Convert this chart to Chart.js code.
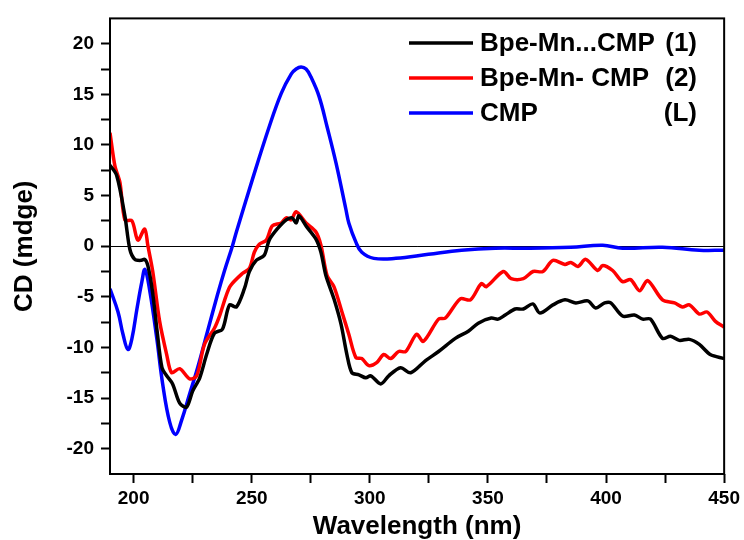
<!DOCTYPE html>
<html>
<head>
<meta charset="utf-8">
<script src="https://cdn.jsdelivr.net/npm/chart.js@4/dist/chart.umd.min.js"></script>
<style>
  html, body { margin: 0; padding: 0; background: #fff; }
  #wrap { width: 744px; height: 540px; }
</style>
</head>
<body>
<div id="wrap"><canvas id="cdChart" width="744" height="540"></canvas></div>
<script>
// wavelength (nm) / CD (mdeg)
const wl1 = [190, 192.8, 196.3, 198.4, 200.5, 203, 204.7, 206, 208, 210, 212, 214, 216.5, 219.5, 222.4, 225, 228, 230.9, 234.2, 237.6, 240.6, 243.5, 246.9, 249, 251.9, 255.3, 257.4, 260.8, 264.6, 267.1, 268.8, 270, 273, 277.2, 279.3, 281.4, 284.8, 287.8, 290.3, 292.4, 295.4, 298.3, 300.4, 304.6, 308, 313, 317.3, 323.6, 329.1, 336.2, 341.7, 345.9, 351.4, 354.3, 357.3, 361.5, 365, 369, 372, 377.5, 382.6, 387.2, 392.3, 395.6, 399.4, 402, 407, 412, 415.5, 418.8, 423.9, 427.3, 431, 435.3, 439.5, 444.1, 450];
const cd1 = [8.0, 7.0, 3.0, -0.3, -1.3, -1.4, -1.3, -1.9, -4.5, -8.5, -12.0, -12.8, -13.6, -15.5, -15.9, -14.3, -13.0, -10.7, -8.6, -8.2, -5.8, -6.0, -4.2, -2.5, -1.4, -0.9, 0.6, 1.7, 2.6, 2.8, 2.3, 3.0, 2.0, 0.7, -0.6, -2.9, -5.2, -7.7, -10.7, -12.5, -12.7, -13.0, -12.8, -13.6, -12.8, -12.0, -12.5, -11.3, -10.4, -9.1, -8.4, -7.6, -7.1, -7.2, -6.8, -6.2, -6.2, -5.7, -6.6, -5.8, -5.3, -5.6, -5.4, -6.1, -5.6, -5.6, -6.9, -6.8, -7.2, -7.2, -9.1, -8.9, -9.3, -9.2, -9.7, -10.7, -11.1];

const wl2 = [190, 192.1, 194.2, 196.3, 199.3, 201.8, 204.7, 206, 208.1, 211, 214, 216.1, 219.5, 223.7, 226.7, 230, 234.2, 236.5, 239, 241, 246, 249, 251.1, 253.2, 256.2, 258.7, 262.5, 264.6, 266.7, 268.8, 273, 277.2, 279.3, 281.9, 284.8, 288.2, 291.1, 294.1, 296.6, 299.6, 302.9, 305.9, 308.8, 312.2, 315.2, 319.8, 322.7, 329.1, 332, 338.3, 342.6, 347.2, 349.3, 356.5, 359.8, 365, 369.1, 373.3, 377.5, 382.6, 385.1, 388.1, 391.4, 396.5, 398.6, 402.8, 407, 410.4, 414.2, 417.6, 423.9, 429, 432.3, 435.3, 439.5, 442.8, 446.2, 450];
const cd2 = [11.2, 7.9, 6.3, 2.6, 2.5, 0.6, 1.7, 0.1, -2.5, -7.4, -10.7, -12.5, -12.1, -13.1, -12.8, -9.7, -8.1, -6.8, -5.0, -3.9, -2.7, -2.2, -0.6, 0.2, 0.6, 2.0, 2.3, 2.8, 2.6, 3.4, 2.3, 1.4, 0.1, -2.9, -4.0, -6.5, -8.7, -11.0, -11.1, -11.8, -11.5, -10.7, -11.1, -10.4, -10.4, -8.7, -9.4, -7.2, -7.1, -5.2, -5.3, -3.7, -4.0, -2.5, -3.2, -3.2, -2.5, -2.5, -1.4, -1.8, -1.6, -2.0, -1.3, -2.4, -1.9, -2.4, -3.5, -3.3, -4.4, -3.4, -5.3, -5.6, -6.0, -5.8, -6.7, -6.5, -7.4, -8.0];

const wlL = [190, 193.4, 195.5, 197.6, 199.3, 201.4, 203.5, 204.8, 206.9, 209.8, 212.3, 215.3, 217.8, 220.3, 223.7, 227.1, 231.3, 235.5, 238.5, 241.8, 243.5, 250.3, 257.4, 262.5, 266.7, 268.8, 270.9, 273, 275.1, 278.5, 281.9, 285.7, 289.9, 291.1, 294.1, 296.6, 301.7, 311, 324.8, 338.8, 353.1, 367, 385, 398.6, 407, 423.9, 439.5, 450];
const cdL = [-4.2, -6.5, -8.7, -10.2, -9.1, -6.2, -3.5, -2.3, -4.5, -9.1, -13.6, -17.4, -18.6, -17.2, -14.6, -12.0, -8.4, -4.8, -2.4, 0, 1.4, 6.6, 11.8, 15.1, 17.0, 17.5, 17.7, 17.5, 16.7, 14.8, 11.8, 8.2, 3.6, 2.3, 0.4, -0.6, -1.2, -1.2, -0.8, -0.4, -0.2, -0.2, -0.1, 0.1, -0.2, -0.1, -0.4, -0.4];

const legendNames = ['Bpe-Mn...CMP', 'Bpe-Mn- CMP', 'CMP'];
const legendTags = ['(1)', '(2)', '(L)'];
const colors = ['#000000', '#ff0000', '#0000ff'];

const xTicks = [200, 225, 250, 275, 300, 325, 350, 375, 400, 425, 450];
const yTicks = [-20, -17.5, -15, -12.5, -10, -7.5, -5, -2.5, 0, 2.5, 5, 7.5, 10, 12.5, 15, 17.5, 20];

const FONT = '"Liberation Sans", Arial, sans-serif';

function toPoints(xs, ys) {
    return xs.map((x, i) => ({ x: x, y: ys[i] }));
}

// box around plot + legend inside top right
const framePlugin = {
    id: 'frame',
    afterDraw(chart) {
        const { ctx, chartArea } = chart;
        ctx.save();
        ctx.strokeStyle = '#000';
        ctx.lineWidth = 2;
        ctx.strokeRect(chartArea.left, chartArea.top, chartArea.right - chartArea.left, chartArea.bottom - chartArea.top);

        ctx.font = 'bold 26px ' + FONT;
        ctx.textBaseline = 'middle';
        ctx.fillStyle = '#000';
        legendNames.forEach((name, i) => {
            const y = 43 + i * 35;
            ctx.strokeStyle = colors[i];
            ctx.lineWidth = 3.5;
            ctx.beginPath();
            ctx.moveTo(409, y);
            ctx.lineTo(473, y);
            ctx.stroke();
            ctx.textAlign = 'left';
            ctx.fillText(name, 480, y + 1);
            ctx.textAlign = 'right';
            ctx.fillText(legendTags[i], 697, y + 1);
        });
        ctx.restore();
    }
};

new Chart(document.getElementById('cdChart'), {
    type: 'line',
    data: {
        datasets: [
            { label: legendNames[0], data: toPoints(wl1, cd1), borderColor: colors[0], tension: 0.3 },
            { label: legendNames[1], data: toPoints(wl2, cd2), borderColor: colors[1], tension: 0.3 },
            { label: legendNames[2], data: toPoints(wlL, cdL), borderColor: colors[2], tension: 0.4 }
        ]
    },
    options: {
        responsive: false,
        animation: false,
        devicePixelRatio: 1,
        layout: { padding: { left: 0, right: 19, top: 14, bottom: 0 } },
        elements: {
            point: { radius: 0 },
            line: { borderWidth: 3.5, fill: false, capBezierPoints: true }
        },
        plugins: {
            legend: { display: false },
            tooltip: { enabled: false }
        },
        scales: {
            x: {
                type: 'linear',
                min: 190,
                max: 450,
                afterBuildTicks: scale => { scale.ticks = xTicks.map(v => ({ value: v })); },
                afterFit: scale => { scale.height = 66; },
                border: { display: false },
                grid: { drawOnChartArea: false, drawTicks: true, tickLength: 9, tickColor: '#000', tickWidth: 2 },
                ticks: {
                    autoSkip: false,
                    maxRotation: 0,
                    padding: 4,
                    color: '#000',
                    font: { family: FONT, size: 19, weight: 'bold' },
                    callback: v => (v % 50 === 0 ? v : '')
                },
                title: {
                    display: true,
                    text: 'Wavelength (nm)',
                    color: '#000',
                    font: { family: FONT, size: 26, weight: 'bold', lineHeight: 1.0 },
                    padding: { top: 0, bottom: 0 }
                }
            },
            y: {
                min: -22.5,
                max: 22.5,
                afterBuildTicks: scale => { scale.ticks = yTicks.map(v => ({ value: v })); },
                afterFit: scale => { scale.width = 110; },
                border: { display: false },
                grid: {
                    drawOnChartArea: true,
                    drawTicks: true,
                    tickLength: 9,
                    tickColor: '#000',
                    tickWidth: 2,
                    lineWidth: 1,
                    color: c => (c.tick && c.tick.value === 0 ? '#000' : 'rgba(0,0,0,0)')
                },
                ticks: {
                    autoSkip: false,
                    padding: 7,
                    color: '#000',
                    font: { family: FONT, size: 19, weight: 'bold' },
                    callback: v => (v % 5 === 0 ? v : '')
                },
                title: {
                    display: true,
                    text: 'CD (mdge)',
                    color: '#000',
                    font: { family: FONT, size: 26, weight: 'bold', lineHeight: 1.2 },
                    padding: { top: 9, bottom: 0 }
                }
            }
        }
    },
    plugins: [framePlugin]
});
</script>
</body>
</html>
